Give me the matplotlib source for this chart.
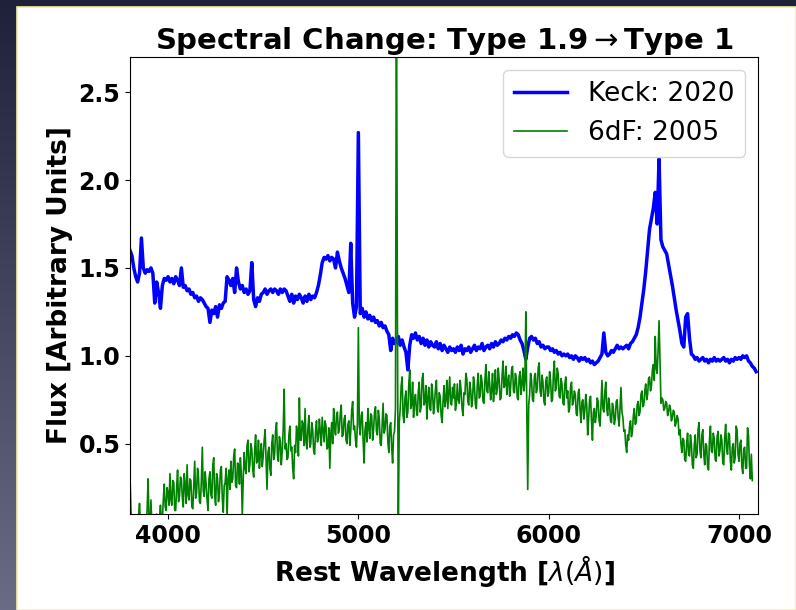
import numpy as np
import matplotlib
matplotlib.use("Agg")
import matplotlib.pyplot as plt
from matplotlib.patches import Rectangle

W, H = 796, 610
DPI = 100

# sampling grids (Angstrom)
WAVE_START = 3800
KECK_STEP = 10
SIXDF_STEP = 5

# Keck 2020 spectrum, one value per 10 A from 3800 A
keck_flux = [
    1.60, 1.57, 1.50, 1.45, 1.42, 1.47, 1.67, 1.50, 1.47, 1.49,
    1.48, 1.50, 1.47, 1.30, 1.42, 1.36, 1.27, 1.40, 1.44, 1.43,
    1.45, 1.42, 1.44, 1.41, 1.45, 1.43, 1.40, 1.50, 1.39, 1.40,
    1.37, 1.38, 1.35, 1.36, 1.33, 1.34, 1.31, 1.33, 1.32, 1.30,
    1.28, 1.27, 1.19, 1.26, 1.24, 1.28, 1.22, 1.29, 1.27, 1.30,
    1.31, 1.45, 1.43, 1.40, 1.44, 1.36, 1.50, 1.42, 1.38, 1.40,
    1.36, 1.38, 1.35, 1.37, 1.53, 1.32, 1.28, 1.33, 1.31, 1.35,
    1.36, 1.38, 1.35, 1.37, 1.38, 1.36, 1.38, 1.37, 1.35, 1.38,
    1.36, 1.38, 1.37, 1.34, 1.31, 1.35, 1.30, 1.34, 1.32, 1.35,
    1.33, 1.30, 1.34, 1.31, 1.35, 1.32, 1.34, 1.33, 1.36, 1.40,
    1.46, 1.53, 1.56, 1.55, 1.57, 1.54, 1.56, 1.55, 1.50, 1.59,
    1.54, 1.50, 1.47, 1.44, 1.40, 1.36, 1.64, 1.30, 1.22, 1.28,
    2.27, 1.24, 1.27, 1.22, 1.25, 1.21, 1.23, 1.20, 1.22, 1.19,
    1.20, 1.17, 1.19, 1.16, 1.17, 1.14, 1.12, 1.03, 1.10, 1.07,
    1.08, 1.11, 1.06, 1.09, 1.05, 1.02, 0.92, 1.06, 1.12, 1.10,
    1.13, 1.09, 1.11, 1.07, 1.10, 1.06, 1.09, 1.05, 1.08, 1.06,
    1.05, 1.08, 1.04, 1.07, 1.03, 1.06, 1.04, 1.02, 1.05, 1.03,
    1.04, 1.02, 1.05, 1.03, 1.06, 1.01, 1.04, 1.03, 1.05, 1.02,
    1.04, 1.06, 1.03, 1.05, 1.04, 1.07, 1.03, 1.05, 1.06, 1.04,
    1.07, 1.05, 1.08, 1.06, 1.07, 1.09, 1.08, 1.10, 1.09, 1.11,
    1.10, 1.12, 1.11, 1.13, 1.12, 1.09, 1.07, 1.03, 0.98, 1.05,
    1.10, 1.11, 1.09, 1.10, 1.07, 1.08, 1.05, 1.06, 1.04, 1.05,
    1.05, 1.03, 1.04, 1.02, 1.03, 1.01, 1.02, 1.00, 1.01, 1.00,
    1.01, 0.99, 1.00, 0.98, 1.00, 0.99, 0.97, 0.99, 0.98, 0.99,
    0.97, 0.98, 0.96, 0.97, 0.95, 0.96, 0.97, 0.99, 1.01, 1.13,
    1.02, 1.00, 1.01, 1.03, 1.02, 1.04, 1.06, 1.04, 1.05, 1.04,
    1.05, 1.06, 1.04, 1.07, 1.08, 1.10, 1.12, 1.16, 1.22, 1.30,
    1.38, 1.48, 1.60, 1.72, 1.78, 1.84, 1.93, 1.75, 2.12, 1.66,
    1.62, 1.60, 1.58, 1.52, 1.46, 1.40, 1.33, 1.26, 1.20, 1.14,
    1.07, 1.05, 1.22, 1.24, 1.10, 1.01, 1.00, 0.98, 0.99, 0.97,
    0.98, 0.99, 0.97, 0.98, 0.96, 0.98, 0.97, 0.99, 0.97, 0.98,
    0.97, 0.98, 0.99, 0.97, 0.98, 0.96, 0.98, 0.97, 0.99, 0.98,
    0.99, 0.98, 1.00, 0.99, 1.00, 0.97, 0.96, 0.94, 0.93, 0.91,
]

# 6dF 2005 spectrum, one value per 5 A from 3800 A to 7070 A
sixdf_flux = [
    0.32, 0.12, 0.05, 0.02, 0.06, 0.01, 0.04, 0.08, 0.03, 0.09, 0.16, 0.04, 0.05, 0.02, 0.08, 0.03, 0.03, 0.06, 0.12, 0.30,
    0.05, 0.02, 0.18, 0.04, 0.06, 0.03, 0.02, 0.07, 0.10, 0.03, 0.04, 0.08, 0.15, 0.05, 0.07, 0.18, 0.27, 0.14, 0.12, 0.25,
    0.22, 0.15, 0.33, 0.18, 0.15, 0.29, 0.28, 0.12, 0.12, 0.25, 0.35, 0.17, 0.20, 0.31, 0.30, 0.19, 0.14, 0.33, 0.26, 0.16,
    0.38, 0.21, 0.18, 0.30, 0.29, 0.14, 0.13, 0.27, 0.40, 0.19, 0.22, 0.36, 0.31, 0.17, 0.16, 0.29, 0.48, 0.23, 0.20, 0.34,
    0.27, 0.18, 0.12, 0.30, 0.34, 0.21, 0.19, 0.38, 0.42, 0.20, 0.15, 0.33, 0.30, 0.17, 0.22, 0.35, 0.37, 0.19, 0.11, 0.26,
    0.28, 0.36, 0.08, 0.30, 0.35, 0.24, 0.40, 0.28, 0.30, 0.43, 0.47, 0.26, 0.25, 0.39, 0.38, 0.27, 0.42, 0.33, 0.09, 0.30,
    0.45, 0.36, 0.33, 0.49, 0.52, 0.34, 0.38, 0.50, 0.47, 0.35, 0.31, 0.46, 0.55, 0.39, 0.40, 0.52, 0.36, 0.44, 0.50, 0.37,
    0.43, 0.52, 0.58, 0.40, 0.24, 0.45, 0.48, 0.36, 0.32, 0.50, 0.55, 0.41, 0.44, 0.57, 0.62, 0.43, 0.40, 0.54, 0.51, 0.38,
    0.46, 0.58, 0.81, 0.47, 0.50, 0.41, 0.42, 0.55, 0.60, 0.46, 0.48, 0.36, 0.30, 0.49, 0.45, 0.60, 0.55, 0.43, 0.76, 0.52,
    0.52, 0.63, 0.61, 0.49, 0.70, 0.51, 0.47, 0.59, 0.66, 0.48, 0.50, 0.62, 0.58, 0.46, 0.44, 0.57, 0.63, 0.51, 0.53, 0.64,
    0.57, 0.49, 0.65, 0.58, 0.51, 0.63, 0.60, 0.47, 0.48, 0.59, 0.36, 0.55, 0.62, 0.50, 0.70, 0.59, 0.55, 0.66, 0.68, 0.56,
    0.58, 0.67, 0.72, 0.54, 0.55, 0.64, 0.66, 0.52, 0.50, 0.61, 0.63, 0.49, 0.57, 0.69, 0.74, 0.58, 0.60, 0.52, 0.48, 0.62,
    1.16, 0.60, 0.55, 0.66, 0.68, 0.52, 0.39, 0.58, 0.62, 0.51, 0.70, 0.59, 0.53, 0.67, 0.66, 0.52, 0.58, 0.68, 0.71, 0.57,
    0.55, 0.69, 0.64, 0.50, 0.49, 0.61, 0.73, 0.56, 0.58, 0.67, 0.66, 0.51, 0.45, 0.60, 0.62, 0.48, 0.39, 0.55, 0.57, 0.70,
    3.20, 1.24, 0.04, 0.62, 0.70, 0.83, 0.88, 0.66, 0.62, 0.76, 0.80, 0.65, 0.68, 0.84, 0.92, 0.70, 0.72, 0.85, 0.65, 0.74,
    0.78, 0.69, 0.66, 0.80, 0.85, 0.68, 0.71, 0.87, 0.90, 0.72, 0.74, 0.83, 0.64, 0.76, 0.82, 0.70, 0.69, 0.84, 0.79, 0.67,
    0.73, 0.81, 0.86, 0.70, 0.68, 0.79, 0.77, 0.66, 0.62, 0.74, 0.83, 0.71, 0.75, 0.86, 0.70, 0.79, 0.88, 0.73, 0.72, 0.82,
    0.76, 0.84, 0.69, 0.73, 0.84, 0.75, 0.73, 0.86, 0.80, 0.70, 0.66, 0.79, 0.78, 0.90, 0.87, 0.74, 0.72, 0.85, 0.81, 0.71,
    0.75, 0.88, 0.83, 0.72, 0.70, 0.84, 0.90, 0.76, 0.77, 0.89, 0.85, 0.74, 0.73, 0.86, 0.95, 0.80, 0.79, 0.91, 0.84, 0.75,
    0.80, 0.90, 0.74, 0.82, 0.92, 0.78, 0.81, 0.93, 0.86, 0.75, 0.76, 0.88, 0.97, 0.82, 0.83, 0.94, 0.78, 0.86, 0.89, 0.77,
    0.82, 0.92, 0.94, 0.80, 0.79, 0.90, 0.87, 0.76, 0.75, 0.88, 0.91, 0.78, 0.84, 0.93, 0.80, 0.86, 1.25, 0.70, 0.24, 0.72,
    0.78, 0.90, 0.86, 0.75, 0.74, 0.88, 0.90, 0.79, 0.81, 0.93, 0.96, 0.80, 0.77, 0.89, 0.85, 0.74, 0.72, 0.86, 0.88, 0.77,
    0.79, 0.91, 0.86, 0.74, 0.75, 0.90, 0.97, 0.80, 0.82, 0.93, 0.90, 0.77, 0.76, 0.87, 0.84, 0.73, 0.72, 0.84, 0.88, 0.76,
    0.80, 0.68, 0.70, 0.82, 0.85, 0.72, 0.74, 0.80, 0.78, 0.67, 0.66, 0.79, 0.81, 0.69, 0.62, 0.74, 0.75, 0.64, 0.69, 0.78,
    0.72, 0.55, 0.64, 0.75, 0.77, 0.63, 0.52, 0.68, 0.70, 0.62, 0.66, 0.76, 0.74, 0.63, 0.60, 0.72, 0.86, 0.70, 0.68, 0.79,
    0.85, 0.70, 0.66, 0.76, 0.72, 0.63, 0.62, 0.73, 0.70, 0.61, 0.64, 0.74, 0.75, 0.65, 0.60, 0.70, 0.82, 0.68, 0.65, 0.57,
    0.58, 0.49, 0.45, 0.55, 0.52, 0.60, 0.63, 0.54, 0.57, 0.66, 0.70, 0.61, 0.62, 0.72, 0.74, 0.66, 0.68, 0.78, 0.80, 0.71,
    0.72, 0.80, 0.84, 0.75, 0.78, 0.87, 0.88, 0.80, 0.83, 0.92, 0.95, 0.86, 1.11, 0.93, 0.90, 1.03, 1.20, 0.98, 0.73, 0.76,
    0.75, 0.69, 0.70, 0.74, 0.73, 0.66, 0.68, 0.72, 0.70, 0.63, 0.65, 0.69, 0.68, 0.60, 0.62, 0.66, 0.64, 0.55, 0.58, 0.50,
    0.45, 0.53, 0.52, 0.41, 0.40, 0.50, 0.56, 0.44, 0.43, 0.55, 0.50, 0.38, 0.36, 0.49, 0.55, 0.42, 0.44, 0.58, 0.62, 0.46,
    0.42, 0.55, 0.58, 0.44, 0.38, 0.50, 0.49, 0.37, 0.35, 0.52, 0.60, 0.46, 0.45, 0.56, 0.53, 0.41, 0.40, 0.54, 0.57, 0.43,
    0.46, 0.55, 0.52, 0.39, 0.38, 0.53, 0.61, 0.47, 0.44, 0.56, 0.55, 0.40, 0.35, 0.48, 0.50, 0.39, 0.42, 0.60, 0.58, 0.44,
    0.40, 0.50, 0.52, 0.37, 0.33, 0.47, 0.48, 0.36, 0.36, 0.59, 0.55, 0.38, 0.30, 0.44, 0.29,
]

keck_wave = WAVE_START + KECK_STEP * np.arange(len(keck_flux))
sixdf_wave = WAVE_START + SIXDF_STEP * np.arange(len(sixdf_flux))

fig = plt.figure(figsize=(W / DPI, H / DPI), dpi=DPI)

# slide background: dark navy fading to grey-blue
bg = fig.add_axes([0, 0, 1, 1], zorder=-2)
top = np.array([0x1f, 0x20, 0x3a]) / 255.
bot = np.array([0x6a, 0x6c, 0x86]) / 255.
t = np.linspace(0, 1, 200)[:, None, None]
img = top * (1 - t) + bot * t
bg.imshow(img, extent=[0, 1, 0, 1], aspect="auto", origin="upper")
bg.axis("off")
bg.add_patch(Rectangle((17 / W, 0), 1 - 17 / W, 1 - 7 / H, transform=bg.transAxes,
                       facecolor="white", edgecolor="#f2ef9a", lw=1.2))

ax = fig.add_axes([130 / W, 96 / H, 628 / W, 457 / H])
ax.plot(keck_wave, keck_flux, color="blue", lw=2.5, label="Keck: 2020")
ax.plot(sixdf_wave, sixdf_flux, color="green", lw=1.2, label="6dF: 2005")

ax.set_xlim(3800, 7100)
ax.set_ylim(0.1, 2.7)
ax.set_xticks([4000, 5000, 6000, 7000])
ax.set_yticks([0.5, 1.0, 1.5, 2.0, 2.5])
ax.tick_params(labelsize=17)
for lab in ax.get_xticklabels() + ax.get_yticklabels():
    lab.set_fontweight("bold")

ax.set_title(r"Spectral Change: Type 1.9$\rightarrow$Type 1", fontsize=21, fontweight="bold")
ax.set_xlabel(r"Rest Wavelength [$\lambda(\AA)$]", fontsize=19, fontweight="bold")
ax.set_ylabel("Flux [Arbitrary Units]", fontsize=19, fontweight="bold")
ax.legend(loc="upper right", fontsize=19)

fig.savefig("out.png", dpi=DPI)
